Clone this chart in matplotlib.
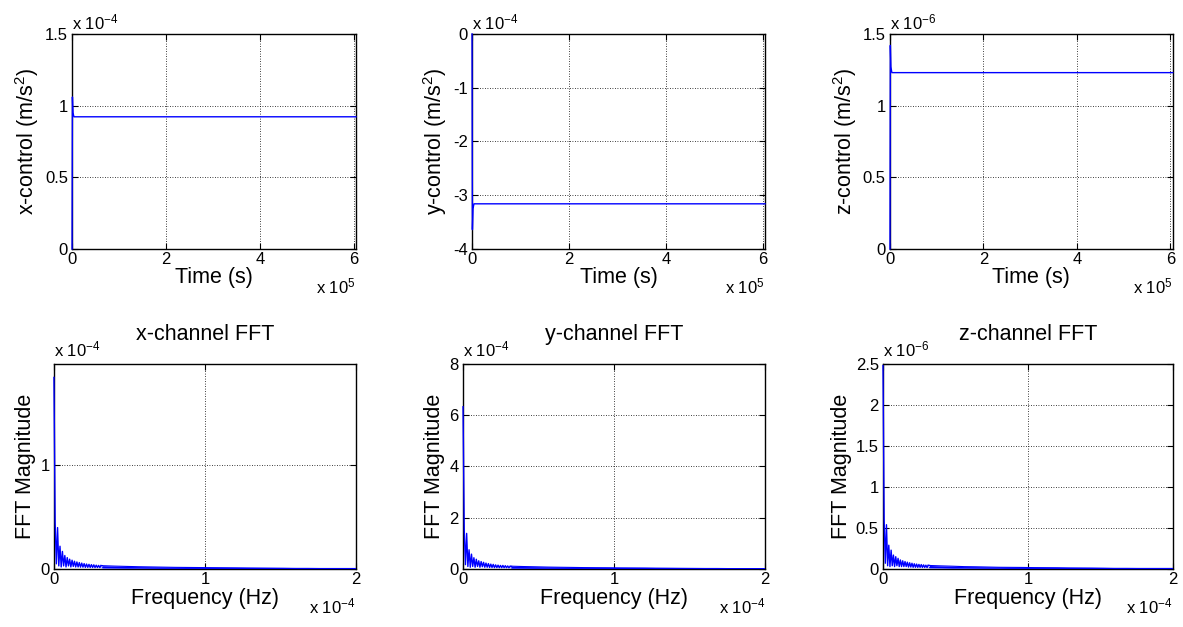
import numpy as np
import matplotlib
matplotlib.use("Agg")
import matplotlib.pyplot as plt
from matplotlib.ticker import FuncFormatter

plt.rcParams["font.family"] = ["Liberation Sans", "DejaVu Sans"]
plt.rcParams["mathtext.fontset"] = "custom"
plt.rcParams["mathtext.rm"] = "Liberation Sans"
plt.rcParams["mathtext.default"] = "regular"

# control time histories (s, m/s^2)
t = [0, 800, 2000, 4000, 605000]
x_ctrl = [0, 1.06e-4, 0.95e-4, 0.922e-4, 0.922e-4]
y_ctrl = [0, -3.64e-4, -3.25e-4, -3.16e-4, -3.16e-4]
z_ctrl = [0, 1.42e-6, 1.27e-6, 1.23e-6, 1.23e-6]

# FFT magnitudes, low-frequency bins (bin width 0.8e-6 Hz)
df = 0.8e-6
x_fft_low = [1.85, 0.45, 0.05, 0.40, 0.03, 0.22, 0.02, 0.17, 0.03, 0.13,
             0.02, 0.11, 0.03, 0.095, 0.02, 0.085, 0.025, 0.075, 0.02, 0.068,
             0.02, 0.062, 0.018, 0.057, 0.018, 0.052, 0.016, 0.048, 0.016, 0.045,
             0.015, 0.042, 0.015, 0.040, 0.014, 0.037, 0.014, 0.035, 0.013, 0.033]
y_fft_low = [6.33, 1.54, 0.17, 1.39, 0.10, 0.75, 0.07, 0.58, 0.10, 0.44,
             0.07, 0.38, 0.10, 0.32, 0.07, 0.29, 0.09, 0.26, 0.07, 0.23,
             0.07, 0.21, 0.06, 0.19, 0.06, 0.18, 0.055, 0.16, 0.055, 0.15,
             0.05, 0.14, 0.05, 0.14, 0.05, 0.13, 0.05, 0.12, 0.045, 0.11]
z_fft_low = [2.48, 0.60, 0.07, 0.54, 0.04, 0.29, 0.03, 0.23, 0.04, 0.17,
             0.03, 0.15, 0.04, 0.13, 0.03, 0.11, 0.03, 0.10, 0.03, 0.091,
             0.03, 0.083, 0.024, 0.076, 0.024, 0.070, 0.021, 0.064, 0.021, 0.060,
             0.020, 0.056, 0.020, 0.054, 0.019, 0.050, 0.019, 0.047, 0.017, 0.044]

# high-frequency tail: upper / lower envelope of the ripple every 8e-6 Hz from 3.2e-5 Hz
x_tail_hi = [0.032, 0.028, 0.025, 0.022, 0.020, 0.018, 0.016, 0.015, 0.014, 0.013, 0.012,
             0.011, 0.010, 0.009, 0.008, 0.007, 0.006, 0.006, 0.005, 0.005, 0.005, 0.005]
x_tail_lo = [0.012, 0.011, 0.010, 0.010, 0.009, 0.008, 0.008, 0.007, 0.007, 0.006, 0.006,
             0.006, 0.005, 0.005, 0.005, 0.005, 0.004, 0.004, 0.004, 0.004, 0.004, 0.004]
y_tail_hi = [0.11, 0.096, 0.086, 0.075, 0.068, 0.062, 0.055, 0.051, 0.048, 0.044, 0.041,
             0.038, 0.034, 0.031, 0.027, 0.024, 0.021, 0.021, 0.017, 0.017, 0.017, 0.017]
y_tail_lo = [0.041, 0.038, 0.034, 0.034, 0.031, 0.027, 0.027, 0.024, 0.024, 0.021, 0.021,
             0.021, 0.017, 0.017, 0.017, 0.017, 0.014, 0.014, 0.014, 0.014, 0.014, 0.014]
z_tail_hi = [0.043, 0.038, 0.034, 0.029, 0.027, 0.024, 0.021, 0.020, 0.019, 0.017, 0.016,
             0.015, 0.013, 0.012, 0.011, 0.009, 0.008, 0.008, 0.007, 0.007, 0.007, 0.007]
z_tail_lo = [0.016, 0.015, 0.013, 0.013, 0.012, 0.011, 0.011, 0.009, 0.009, 0.008, 0.008,
             0.008, 0.007, 0.007, 0.007, 0.007, 0.005, 0.005, 0.005, 0.005, 0.005, 0.005]


def draw_spectrum(ax, low, hi, lo, unit):
    f_low = np.arange(len(low)) * df
    ax.plot(f_low, np.array(low) * unit, color="b", lw=1, zorder=3, clip_on=False)
    # ripple too dense to resolve: drawn as a band between its envelopes
    f_tail = 3.2e-5 + np.arange(len(hi)) * 8e-6
    hi = np.array(hi) * unit
    lo = np.array(lo) * unit
    ax.fill_between(f_tail, lo, hi, color="b", lw=0, zorder=3)
    ax.plot(f_tail, hi, color="b", lw=0.8, zorder=3)
    ax.plot(f_tail, lo, color="b", lw=0.8, zorder=3)
    ax.plot([f_low[-1], f_tail[0]], [low[-1] * unit, hi[0]], color="b", lw=1, zorder=3)


def style(ax, xs, ys, xexp, yexp, xticks, yticks, xlim, ylim, ydy=1):
    ax.set_xlim(*xlim)
    ax.set_ylim(*ylim)
    ax.set_xticks(xticks)
    ax.set_yticks(yticks)
    ax.xaxis.set_major_formatter(FuncFormatter(lambda v, p: f"{v / xs:g}"))
    ax.yaxis.set_major_formatter(FuncFormatter(lambda v, p: f"{v / ys:g}"))
    ax.tick_params(direction="in", top=True, right=True, labelsize=12,
                   length=4, width=0.8, color="k")
    ax.tick_params(axis="x", pad=2)
    ax.tick_params(axis="y", pad=3)
    ax.grid(True, color="k", linestyle=(0, (1, 2)), linewidth=0.6)
    for s in ax.spines.values():
        s.set_linewidth(1.0)
    ax.annotate(f"x 10$^{{{yexp}}}$", xy=(0, 1), xycoords="axes fraction",
                xytext=(0, ydy), textcoords="offset points",
                ha="left", va="bottom", fontsize=12)
    ax.annotate(f"x 10$^{{{xexp}}}$", xy=(1, 0), xycoords="axes fraction",
                xytext=(0, -20), textcoords="offset points",
                ha="right", va="top", fontsize=12)


fig = plt.figure(figsize=(11.83, 6.27), dpi=100)

top_pos = [[0.0609, 0.6029, 0.240, 0.343],
           [0.399, 0.6029, 0.2477, 0.343],
           [0.7523, 0.6029, 0.239, 0.343]]
bot_pos = [[0.0456, 0.0925, 0.2553, 0.327],
           [0.3914, 0.0925, 0.2553, 0.327],
           [0.7464, 0.0925, 0.245, 0.327]]

# time histories
series = [
    ("x-control (m/s$^2$)", x_ctrl, 1e-4, -4, [0, 0.5e-4, 1e-4, 1.5e-4], (0, 1.5e-4)),
    ("y-control (m/s$^2$)", y_ctrl, 1e-4, -4, [-4e-4, -3e-4, -2e-4, -1e-4, 0], (-4e-4, 0)),
    ("z-control (m/s$^2$)", z_ctrl, 1e-6, -6, [0, 0.5e-6, 1e-6, 1.5e-6], (0, 1.5e-6)),
]
for pos, (label, vals, ys, yexp, yticks, ylim) in zip(top_pos, series):
    ax = fig.add_axes(pos)
    ax.plot(t, vals, color="b", lw=1, zorder=3, clip_on=False)
    style(ax, 1e5, ys, 5, yexp, [0, 2e5, 4e5, 6e5], yticks, (0, 6.05e5), ylim)
    ax.set_xlabel("Time (s)", fontsize=15.5, labelpad=0)
    ax.set_ylabel(label, fontsize=15.5, labelpad=3)

# spectra
specs = [
    ("x-channel FFT", x_fft_low, x_tail_hi, x_tail_lo, 1e-4, -4,
     [0, 1e-4], (0, 1.98e-4)),
    ("y-channel FFT", y_fft_low, y_tail_hi, y_tail_lo, 1e-4, -4,
     [0, 2e-4, 4e-4, 6e-4, 8e-4], (0, 8e-4)),
    ("z-channel FFT", z_fft_low, z_tail_hi, z_tail_lo, 1e-6, -6,
     [0, 0.5e-6, 1e-6, 1.5e-6, 2e-6, 2.5e-6], (0, 2.5e-6)),
]
for pos, (title, low, hi, lo, ys, yexp, yticks, ylim) in zip(bot_pos, specs):
    ax = fig.add_axes(pos)
    draw_spectrum(ax, low, hi, lo, ys)
    style(ax, 1e-4, ys, -4, yexp, [0, 1e-4, 2e-4], yticks, (0, 2e-4), ylim, ydy=3)
    ax.set_title(title, fontsize=15.5, pad=17)
    ax.set_xlabel("Frequency (Hz)", fontsize=15.5, labelpad=1)
    ax.set_ylabel("FFT Magnitude", fontsize=15.5, labelpad=3)

fig.savefig("out.png", dpi=100)
